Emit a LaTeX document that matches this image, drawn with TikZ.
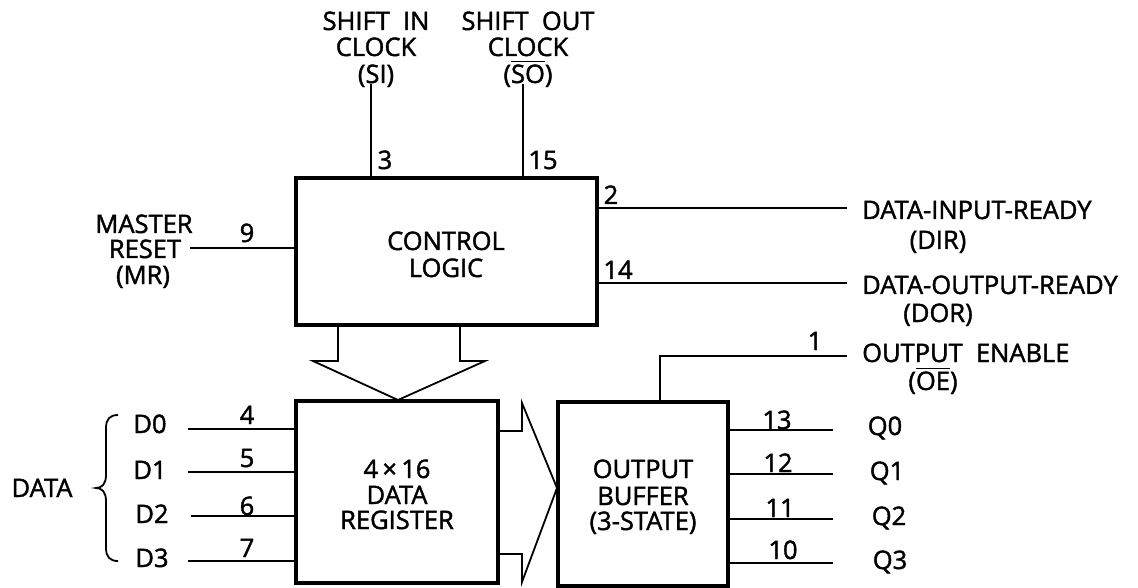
\documentclass[tikz,border=0pt]{standalone}
\usepackage{fontspec}
\setmainfont{Open Sans}[FakeBold=1.6]
\newcommand\ovl[1]{\leavevmode\vbox{\hrule height 1.4pt\kern2.6pt\hbox{#1}}}
\begin{document}
\begin{tikzpicture}[x=1pt,y=-1pt,
  txt/.style={inner sep=0pt, text height=18pt, text depth=0pt, font=\fontsize{25.5}{30}\selectfont},
  pin/.style={txt},
  boxline/.style={line width=3.6pt},
  wire/.style={line width=1.8pt},
  lbl/.style={txt, anchor=west}]
\useasboundingbox (0,0) rectangle (1138,588);

% blocks
\draw[boxline] (296,178) rectangle (597,325);
\node[txt] (ctl1) at (446,241) {CONTROL};
\node[txt] (ctl2) at (446,268) {LOGIC};

\draw[boxline] (296,401) rectangle (498,583);
\node[txt] (reg1) at (397,469) {4\,×\,16};
\node[txt] (reg2) at (397,495) {DATA};
\node[txt] (reg3) at (397,520) {REGISTER};

\draw[boxline] (558,402) rectangle (728,586);
\node[txt] (buf1) at (643,469) {OUTPUT};
\node[txt] (buf2) at (643,496) {BUFFER};
\node[txt] (buf3) at (643,521) {(3-STATE)};

% hollow arrows
\draw[wire, line join=miter] (338,325) -- (338,361) -- (313,361) -- (398,400) -- (485,361) -- (460,361) -- (460,325);
\draw[wire, line join=miter] (498,431) -- (522,431) -- (522,403) -- (557,488) -- (522,582) -- (522,554) -- (498,554);

% top inputs
\node[txt] (si1) at (376,21) {SHIFT\ \ IN};
\node[txt] (si2) at (376,47) {CLOCK};
\node[txt] (si3) at (376,74) {(SI)};
\node[txt] (so1) at (528,21) {SHIFT\ \ OUT};
\node[txt] (so2) at (528,47) {CLOCK};
\node[txt] (so3) at (528,74) {(\ovl{SO})};
\coordinate (siE) at (371,178);
\coordinate (soE) at (523,178);
\draw[wire] (371,84) -- (siE);
\draw[wire] (523,84) -- (soE);
\node[pin] (p3) at (385,160) {3};
\node[pin] (p15) at (543,160) {15};

% master reset
\node[txt] (mr1) at (144,224) {MASTER};
\node[txt] (mr2) at (145,249) {RESET};
\node[txt] (mr3) at (143,275) {(MR)};
\coordinate (mrA) at (190,248);
\coordinate (mrB) at (296,248);
\draw[wire] (mrA) -- (mrB);
\node[pin] (p9) at (247,233) {9};

% right outputs of control
\coordinate (dirA) at (597,208);
\coordinate (dirB) at (847,208);
\coordinate (dorA) at (597,283);
\coordinate (dorB) at (847,283);
\draw[wire] (dirA) -- (dirB);
\draw[wire] (dorA) -- (dorB);
\node[pin] (p2) at (611,195) {2};
\node[pin] (p14) at (618,270) {14};
\node[lbl] (dir1) at (862,210) {DATA-INPUT-READY};
\node[txt] (dir2) at (938,240) {(DIR)};
\node[lbl] (dor1) at (862,285) {DATA-OUTPUT-READY};
\node[txt] (dor2) at (938,313) {(DOR)};

% output enable
\coordinate (oeA) at (847,356);
\coordinate (oeB) at (660,356);
\coordinate (oeC) at (660,402);
\draw[wire] (oeA) -- (oeB) -- (oeC);
\node[pin] (p1) at (815,341) {1};
\node[lbl] (oe1) at (862,353) {OUTPUT\ \ ENABLE};
\node[txt] (oe2) at (933,381) {(\ovl{OE})};

% data inputs
\foreach \n/\y/\x/\ty/\tx/\pn/\py in {0/429/188/424/150/4/415, 1/472/188/470/150/5/458, 2/516/191/514/152/6/506, 3/561/188/558/152/7/548}{
  \coordinate (din\n) at (\x,\y);
  \coordinate (dreg\n) at (296,\y);
  \draw[wire] (din\n) -- (dreg\n);
  \node[txt] (dl\n) at (\tx,\ty) {D\n};
  \node[pin] (dp\n) at (247,\py) {\pn};
}
\draw[wire] (118,415) .. controls (110,415) and (106,419) .. (106,428) -- (106,475)
  .. controls (106,484) and (102,488) .. (96,488)
  .. controls (102,488) and (106,492) .. (106,501) -- (106,548)
  .. controls (106,557) and (110,561) .. (118,561);
\node[txt] (data) at (42,488) {DATA};

% outputs
\foreach \n/\y/\ty/\tx/\pn/\px/\py in {0/430/426/885/13/777/420, 1/474/471/887/12/778/463, 2/519/516/889/11/780/508, 3/563/560/890/10/783/550}{
  \coordinate (qb\n) at (728,\y);
  \coordinate (qo\n) at (833,\y);
  \draw[wire] (qb\n) -- (qo\n);
  \node[txt] (ql\n) at (\tx,\ty) {Q\n};
  \node[pin] (qp\n) at (\px,\py) {\pn};
}
\end{tikzpicture}
\end{document}
